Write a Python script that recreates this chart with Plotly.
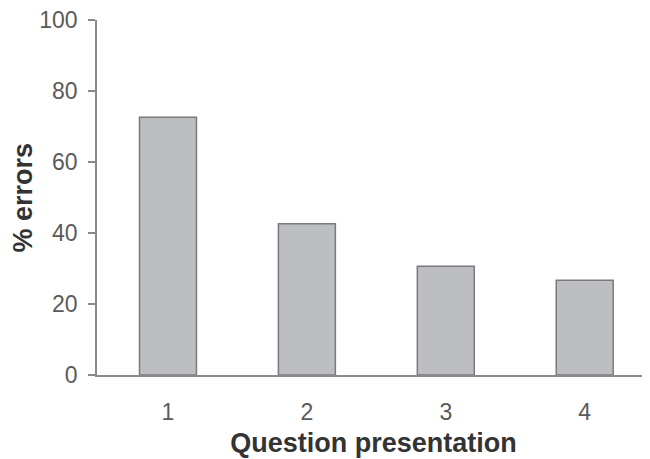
import plotly.graph_objects as go

categories = ["1", "2", "3", "4"]
errors_pct = [72.6, 42.6, 30.6, 26.7]
y_ticks = [0, 20, 40, 60, 80, 100]

fig = go.Figure()
fig.add_trace(go.Bar(
    x=categories,
    y=errors_pct,
    marker=dict(color="#bdbec2", line=dict(color="#7a7a7c", width=1.5)),
    width=0.41,
))

fig.update_layout(
    width=650, height=459,
    margin=dict(l=89, r=8, t=12, b=92, autoexpand=False),
    paper_bgcolor="white", plot_bgcolor="white",
    showlegend=False,
    font=dict(family="Liberation Sans, Arial, sans-serif", color="#555555"),
    xaxis=dict(
        type="category",
        range=[-0.511, 3.47],
        automargin=False,
        showline=True, linecolor="#8a8a8a", linewidth=1.5,
        ticks="", showgrid=False, zeroline=False,
        tickfont=dict(size=23, color="#5a5a5a"),
        ticklabelstandoff=16,
        title=dict(text="<b>Question presentation</b>",
                   font=dict(size=27, color="#333333"), standoff=9),
    ),
    yaxis=dict(
        range=[0, 100],
        tickvals=y_ticks,
        automargin=False,
        showline=True, linecolor="#8a8a8a", linewidth=1.5,
        ticks="outside", ticklen=7, tickcolor="#8a8a8a", tickwidth=1.5,
        showgrid=False, zeroline=False,
        tickfont=dict(size=23, color="#5a5a5a"),
        ticklabelstandoff=6,
        ticklabeloverflow="allow",
    ),
    annotations=[dict(
        text="<b>% errors</b>", textangle=-90,
        xref="paper", yref="paper", x=0, y=0.5,
        xanchor="center", yanchor="middle", xshift=-75,
        showarrow=False, font=dict(size=27, color="#333333"),
    )],
)

fig.write_html("out.html")
